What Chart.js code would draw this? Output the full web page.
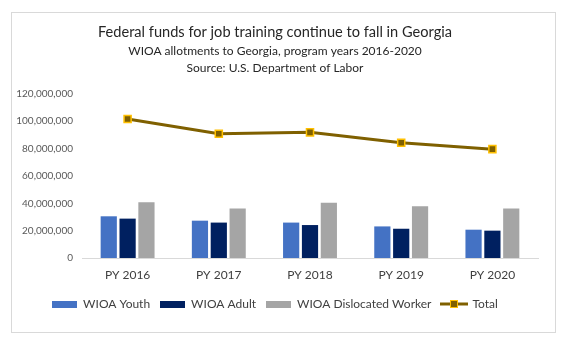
<!DOCTYPE html>
<html>
<head>
    <title>WIOA Georgia</title>
    <meta charset="utf-8">
    <script src="https://cdn.jsdelivr.net/npm/chart.js@4/dist/chart.umd.min.js"></script>
    <style>
      body { margin: 0; background: #fff; }
      .chart-box {
        position: absolute;
        left: 11px;
        top: 12px;
        width: 543px;
        height: 319px;
        border: 1px solid #d9d9d9;
      }
    </style>
</head>
<body>
    <div class="chart-box">
        <canvas id="chart"></canvas>
    </div>

    <script>
        const years = ['PY 2016', 'PY 2017', 'PY 2018', 'PY 2019', 'PY 2020'];
        const youth = [30500000, 27300000, 25900000, 23100000, 20700000];
        const adult = [28800000, 25900000, 24100000, 21400000, 20000000];
        const dislocated = [40700000, 36200000, 40400000, 37900000, 36200000];
        const total = [101700000, 90900000, 91900000, 84300000, 79600000];

        const FONT = 'Lato, "Liberation Sans", sans-serif';

        // small canvases used as legend icons
        function boxIcon(color) {
            let c = document.createElement('canvas');
            c.width = 25; c.height = 7;
            let g = c.getContext('2d');
            g.fillStyle = color;
            g.fillRect(0, 0, 25, 7);
            return c;
        }
        function lineIcon() {
            let c = document.createElement('canvas');
            c.width = 28; c.height = 10;
            let g = c.getContext('2d');
            g.strokeStyle = '#7F6000';
            g.lineWidth = 3;
            g.beginPath(); g.moveTo(0, 5); g.lineTo(28, 5); g.stroke();
            g.fillStyle = '#7F6000';
            g.fillRect(10, 1, 8, 8);
            g.strokeStyle = '#FFC000';
            g.lineWidth = 1;
            g.strokeRect(10.5, 1.5, 7, 7);
            return c;
        }
        const icons = [boxIcon('#4472C4'), boxIcon('#002060'), boxIcon('#A5A5A5'), lineIcon()];
        const legendOrder = [3, 0, 1, 2];

        let ctx = document.getElementById('chart').getContext('2d');
        let chart = new Chart(ctx, {
            data: {
                labels: years,
                datasets: [
                    { type: 'line', label: 'Total', data: total, borderColor: '#7F6000', borderWidth: 3,
                      tension: 0, pointStyle: 'rect', pointRadius: 5, pointBackgroundColor: '#7F6000',
                      pointBorderColor: '#FFC000', pointBorderWidth: 1.5, order: 0 },
                    { type: 'bar', label: 'WIOA Youth', data: youth, backgroundColor: '#4472C4', order: 1 },
                    { type: 'bar', label: 'WIOA Adult', data: adult, backgroundColor: '#002060', order: 2 },
                    { type: 'bar', label: 'WIOA Dislocated Worker', data: dislocated, backgroundColor: '#A5A5A5', order: 3 }
                ]
            },
            options: {
                responsive: true,
                maintainAspectRatio: false,
                animation: false,
                datasets: { bar: { categoryPercentage: 0.62, barPercentage: 0.86 } },
                layout: { padding: { left: 0, right: 17, top: 0, bottom: 12 } },
                plugins: {
                    tooltip: { enabled: false },
                    title: {
                        display: true,
                        text: 'Federal funds for job training continue to fall in Georgia',
                        color: '#262626',
                        font: { family: FONT, size: 14.6, weight: 'normal' },
                        padding: { top: 11, bottom: 2 }
                    },
                    subtitle: {
                        display: true,
                        text: ['WIOA allotments to Georgia, program years 2016-2020', 'Source: U.S. Department of Labor'],
                        color: '#262626',
                        font: { family: FONT, size: 12, lineHeight: 1.35 },
                        padding: { bottom: 18 }
                    },
                    legend: {
                        position: 'bottom',
                        labels: {
                            usePointStyle: true,
                            pointStyleWidth: 25,
                            color: '#404040',
                            font: { family: FONT, size: 12 },
                            padding: 10,
                            generateLabels: function(c) {
                                let items = Chart.defaults.plugins.legend.labels.generateLabels(c);
                                items.forEach(it => { it.pointStyle = icons[legendOrder[it.datasetIndex]]; });
                                items.sort((a, b) => legendOrder[a.datasetIndex] - legendOrder[b.datasetIndex]);
                                return items;
                            }
                        }
                    }
                },
                scales: {
                    x: {
                        grid: { display: false, drawTicks: false },
                        border: { color: '#d9d9d9' },
                        ticks: { color: '#404040', font: { family: FONT, size: 12 }, padding: 10 },
                        afterFit: s => { s.height = 30; }
                    },
                    y: {
                        min: 0,
                        max: 120000000,
                        grid: { display: false, drawTicks: false },
                        border: { display: false },
                        ticks: {
                            stepSize: 20000000,
                            color: '#595959',
                            font: { family: FONT, size: 10 },
                            padding: 9,
                            callback: v => v.toLocaleString('en-US')
                        },
                        afterFit: s => { s.width = 70; }
                    }
                }
            }
        });
    </script>
</body>
</html>
